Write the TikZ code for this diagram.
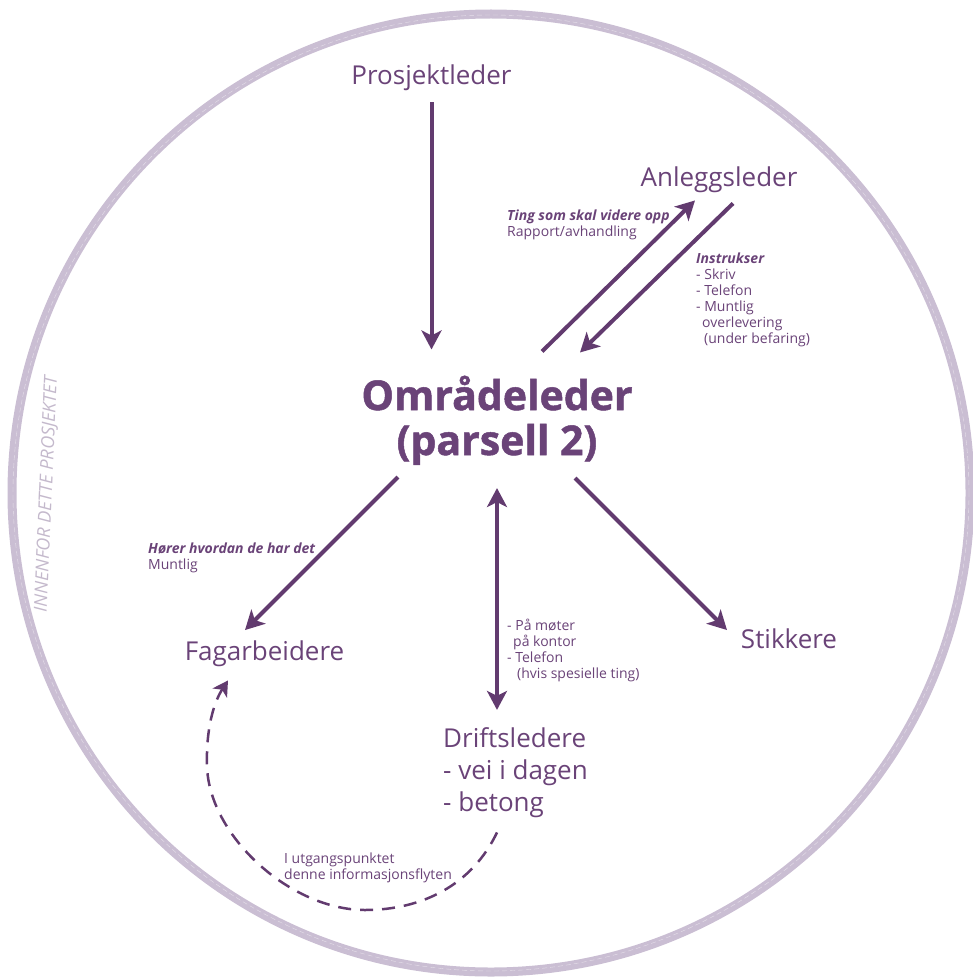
\documentclass[tikz,border=0pt]{standalone}
\usepackage{fontspec}
\setmainfont{Open Sans}
\newfontfamily\heavyfont{Open Sans}[BoldFeatures={FakeBold=1.2}]
\usetikzlibrary{calc,arrows.meta}

\definecolor{plum}{HTML}{6A4378}
\definecolor{plumdark}{HTML}{623B6F}
\definecolor{ringcol}{HTML}{CABED3}
\definecolor{ringtext}{HTML}{C4B9CC}

\tikzset{
	role/.style={inner sep=0, anchor=base, color=plum, font=\fontsize{26}{32}\selectfont},
	head/.style={role, font=\fontsize{41}{45}\selectfont\heavyfont\bfseries},
	note/.style={inner sep=0, anchor=base west, align=left, color=plum, font=\fontsize{14}{16}\selectfont},
	flow/.style={line width=4pt, color=plumdark, -{Stealth[length=19pt,width=20pt,inset=5pt]}},
	twoway/.style={flow, {Stealth[length=19pt,width=20pt,inset=5pt]}-{Stealth[length=19pt,width=20pt,inset=5pt]}},
	loose/.style={line width=2.5pt, color=plumdark, dash pattern=on 13pt off 9pt, -{Stealth[length=15pt,width=17pt,inset=4pt]}}
}
\newcommand{\hl}[1]{\textbf{\textit{#1}}}

\begin{document}
\begin{tikzpicture}[x=1pt, y=-1pt]
	%%%%% START %%%%%
	\useasboundingbox (0,0) rectangle (972,979);
	
	% project ring
	\draw[ringcol, line width=9pt] (491,493) circle[radius=479pt];
	\draw[white, line width=0.4pt, dash pattern=on 5pt off 3pt, opacity=0.5] (491,493) circle[radius=478pt];
	\node[rotate=87.5, inner sep=0, color=ringtext, font=\fontsize{18}{20}\selectfont\itshape] (omfang) at (47,494) {INNENFOR DETTE PROSJEKTET};
	
	% roles (multi-line nodes sit on their last baseline)
	\node[role] (prosjektleder) at (431.5,85) {Prosjektleder};
	\node[role] (anleggsleder) at (719,186) {Anleggsleder};
	\node[head] (omrade) at (497,410) {Områdeleder};
	\node[head] (parsell) at (497,455) {(parsell 2)};
	\node[role] (fagarbeidere) at (264.5,660) {Fagarbeidere};
	\node[role] (stikkere) at (789,648) {Stikkere};
	\node[role, anchor=base west, align=left] (driftsledere) at (443,811) {Driftsledere\\- vei i dagen\\- betong};
	
	% notes on the arrows
	\node[note] (ting) at (507,236) {\hl{Ting som skal videre opp}\\Rapport/avhandling};
	\node[note] (instrukser) at (696,343) {\hl{Instrukser}\\- Skriv\\- Telefon\\- Muntlig\\\hspace*{6pt}overlevering\\\hspace*{8pt}(under befaring)};
	\node[note] (horer) at (148,569) {\hl{Hører hvordan de har det}\\Muntlig};
	\node[note] (moter) at (507,678) {- På møter\\\hspace*{6pt}på kontor\\- Telefon\\\hspace*{10pt}(hvis spesielle ting)};
	\node[note] (utgang) at (284,879) {I utgangspunktet\\denne informasjonsflyten};
	
	% arrows
	\draw[flow] ($(prosjektleder.south)+(0,11)$) -- ($(prosjektleder.south |- omrade.north)+(0,-26)$);
	\draw[flow] ($(omrade.north)+(45,-24)$) -- ($(anleggsleder.south)+(-24,8)$);
	\draw[flow] ($(anleggsleder.south)+(14,11)$) -- ($(omrade.north)+(83,-23)$);
	\draw[flow] ($(parsell.south)+(-99,12)$) -- ($(fagarbeidere.north)+(-19.5,-10)$);
	\draw[flow] ($(parsell.south)+(78,13)$) -- ($(stikkere.north)+(-62,2)$);
	\draw[twoway] ($(parsell.south)+(0,23)$) -- ($(parsell.south |- driftsledere.north)+(0,-17)$);
	
	\draw[loose] ($(driftsledere.south west)+(54,15)$) .. controls (472,885) and (422,910) .. (365,910)
		.. controls (290,910) and (208,835) .. (207,765)
		.. controls (206,728) and (214,702) .. ($(fagarbeidere.south)+(-36.5,14)$);
	
	%%%%% END %%%%%
\end{tikzpicture}
\end{document}
